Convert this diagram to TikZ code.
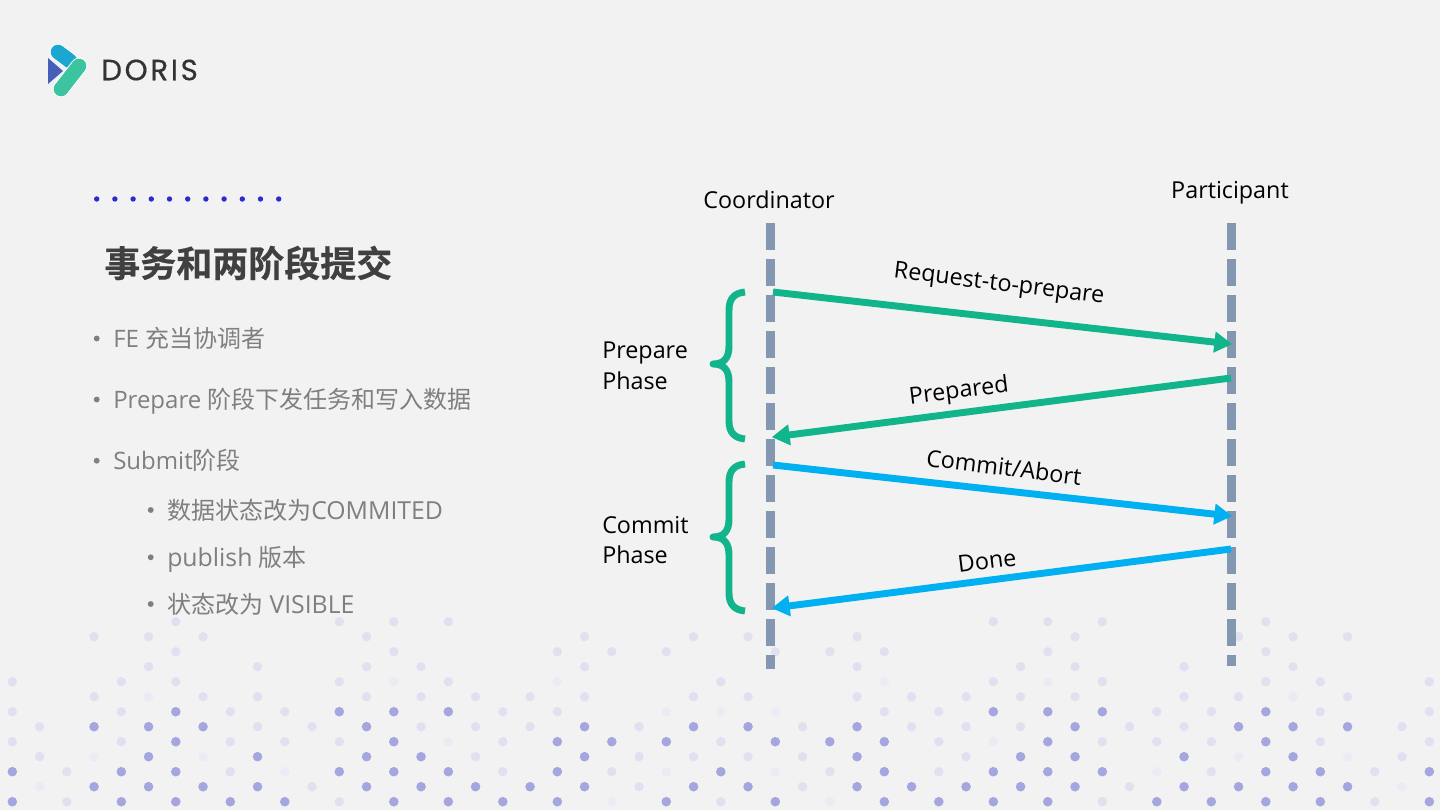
\documentclass[tikz,border=0pt]{standalone}
\usepackage{fontspec}
\usetikzlibrary{arrows.meta}
\setmainfont{Open Sans}
\newfontfamily\cjkf{Noto Sans CJK SC}
\newfontfamily\cjkb{Noto Sans CJK SC Bold}[FakeBold=0.5]
\newfontfamily\logof{Poppins}[LetterSpace=9,FakeBold=0.4]
\definecolor{bgc}{HTML}{F2F2F2}
\definecolor{darkdot}{HTML}{A5A5E0}
\definecolor{lightdot}{HTML}{E0E0F0}
\definecolor{faintdot}{HTML}{EBEBF3}
\definecolor{lifec}{HTML}{8497B0}
\definecolor{greenc}{HTML}{12B48B}
\definecolor{bluec}{HTML}{00B0F0}
\definecolor{graytext}{HTML}{7F7F7F}
\definecolor{titlec}{HTML}{404040}
\definecolor{topdot}{HTML}{2A2AD0}
\definecolor{logocyan}{HTML}{1AA7D0}
\definecolor{logoblue}{HTML}{4460B8}
\definecolor{logogreen}{HTML}{3CC4A0}
\newcommand{\dotrow}[4]{%
  \foreach \i in {#2} {\fill[lightdot] ({12.3+27.25*\i},{621.7+15*#1}) circle (4.7);}%
  \foreach \i in {#3} {\fill[darkdot] ({12.3+27.25*\i},{621.7+15*#1}) circle (4.8);}%
  \foreach \i in {#4} {\fill[faintdot] ({12.3+27.25*\i},{621.7+15*#1}) circle (4.7);}%
}
\newcommand{\lat}[1]{{\fontsize{18.6}{22}\selectfont #1}}
\tikzset{
  bodytext/.style={anchor=base west,inner sep=0,text=graytext,font=\fontsize{18}{22}\selectfont},
  bul/.style={fill=graytext,circle,inner sep=0,minimum size=4.4pt},
  lifeline/.style={draw=lifec,line width=6.75pt,dash pattern=on 20.25pt off 6.75pt},
  msggreen/.style={draw=greenc,line width=5.2pt,-{Triangle[length=13.5pt,width=15pt]},shorten >=-1pt},
  msgblue/.style={draw=bluec,line width=5.2pt,-{Triangle[length=13.5pt,width=15pt]},shorten >=-1pt},
  brace/.style={draw=greenc,line width=5.2pt,line cap=butt,line join=round},
  lbl/.style={inner sep=0,text=black,font=\fontsize{17.5}{20}\selectfont},
  phase/.style={anchor=west,inner sep=0,text=black,align=left,font=\fontsize{17.5}{23}\selectfont},
}
\begin{document}
\begin{tikzpicture}[x=0.75pt,y=-0.75pt]
\useasboundingbox (0,0) rectangle (1440,810);
\fill[bgc] (0,0) rectangle (1440,810);
% background dots
\dotrow{0}{6,12,14,16,36,38,40,46}{}{}
\dotrow{1}{3,5,7,13,21,25,27,31,39,45,47,49}{}{}
\dotrow{2}{6,14,20,22,24,28,30,32,38,46}{}{}
\dotrow{3}{5,9,13,15,21,31,37,39,43,47}{}{}
\dotrow{4}{0,4,6,12,16,26,36,40,46,48,52}{}{14,20,32,38}
\dotrow{5}{3,7,9,13,15,17,19,21,25,27,31,33,35,37,39,43,45,49}{}{5,47}
\dotrow{6}{0,4,8,10,18,20,32,34,42,44,48,52}{6,12,14,16,36,38,40,46}{24,26,28}
\dotrow{7}{1,9,11,15,17,19,23,29,33,35,37,41,43,51}{3,5,7,13,21,25,27,31,39,45,47,49}{}
\dotrow{8}{0,4,8,10,12,18,26,34,40,42,44,48,52}{6,14,20,22,24,28,30,32,38,46}{16,36}
\dotrow{9}{1,17,23,25,27,29,35,51}{5,9,13,15,21,31,37,39,43,47}{3,7,45,49}
\dotrow{10}{2,8,18,22,30,34,44,50}{0,4,6,12,14,16,20,26,32,36,38,40,46,48,52}{10,24,28,42}
\dotrow{11}{11,23,29,41}{3,5,7,9,13,15,17,19,21,25,27,31,33,35,37,39,43,45,47,49}{1,51}
\dotrow{12}{2,12,26,40,50}{0,4,6,8,10,14,16,18,20,24,28,32,34,36,38,42,44,46,48,52}{22,30}
% logo
\fill[logoblue] (48,58) -- (63,71) -- (48,84) -- cycle;
\draw[line width=12.5pt,line cap=round,draw=white!90!bgc] (58,52) -- (70,61);
\draw[line width=11pt,line cap=round,draw=logocyan] (58,52) -- (70,61);
\draw[line width=12.5pt,line cap=round,draw=white!90!bgc] (79,66) -- (61,89);
\draw[line width=11pt,line cap=round,draw=logogreen] (79,66) -- (61,89);
\node[anchor=west,inner sep=0,text=black!80,font=\logof\fontsize{22}{24}\selectfont] (logotext) at (101,70) {DORIS};
% top dots
\foreach \k in {0,...,10} \fill[topdot] ({96.7+18.2*\k},199) circle (2.7);
% title
\node[anchor=west,inner sep=0,text=titlec,font=\cjkb\fontsize{27}{30}\selectfont] (title) at (104,263) {事务和两阶段提交};
% bullets
\node[bul] (b1) at (96.7,338.5) {};
\node[bodytext] (t1) at (113,347) {FE {\cjkf 充当协调者}};
\node[bul] (b2) at (96.7,399.5) {};
\node[bodytext] (t2) at (113,408) {Prepare {\cjkf 阶段下发任务和写入数据}};
\node[bul] (b3) at (96.7,460.7) {};
\node[bodytext] (t3) at (113,469) {Submit{\cjkf 阶段}};
\node[bul] (b4) at (150.7,510) {};
\node[bodytext] (t4) at (167,519) {{\cjkf 数据状态改为}\lat{COMMITED}};
\node[bul] (b5) at (150.7,557.3) {};
\node[bodytext] (t5) at (167,566) {\lat{publish} {\cjkf 版本}};
\node[bul] (b6) at (150.7,604) {};
\node[bodytext] (t6) at (167,613) {{\cjkf 状态改为} \lat{VISIBLE}};
% lifelines
\coordinate (ctop) at (770.5,223);
\coordinate (cbot) at (770.5,669);
\coordinate (ptop) at (1231.2,223);
\coordinate (pbot) at (1231.2,666);
\draw[lifeline] (ctop) -- (cbot);
\draw[lifeline] (ptop) -- (pbot);
\node[lbl] (coord) at (769,199.5) {Coordinator};
\node[lbl] (part) at (1230,192.5) {Participant};
% messages
\coordinate (m1a) at (773,292); \coordinate (m1b) at (1231,344);
\coordinate (m2a) at (1231,378); \coordinate (m2b) at (773,437);
\coordinate (m3a) at (773,465); \coordinate (m3b) at (1231,516);
\coordinate (m4a) at (1231,549); \coordinate (m4b) at (773,608);
\draw[msggreen] (m1a) -- (m1b);
\draw[msggreen] (m2a) -- (m2b);
\draw[msgblue] (m3a) -- (m3b);
\draw[msgblue] (m4a) -- (m4b);
\node[lbl,rotate=-7] (l1) at (999,285) {Request-to-prepare};
\node[lbl,rotate=7] (l2) at (959,392) {Prepared};
\node[lbl,rotate=-7] (l3) at (1004,467) {Commit/Abort};
\node[lbl,rotate=7] (l4) at (987,561) {Done};
% braces
\draw[brace] (745,292) .. controls (735,293) and (729,298) .. (729,310) -- (729,346) .. controls (729,358) and (724,364) .. (713,364) .. controls (724,364) and (729,370) .. (729,382) -- (729,421) .. controls (729,433) and (735,438) .. (745,439);
\draw[brace] (745,464) .. controls (735,465) and (729,470) .. (729,482) -- (729,519) .. controls (729,531) and (724,537) .. (713,537) .. controls (724,537) and (729,543) .. (729,555) -- (729,593) .. controls (729,605) and (735,610) .. (745,611);
\node[phase] (ph1) at (602,366) {Prepare\\Phase};
\node[phase] (ph2) at (602,540) {Commit\\Phase};
\end{tikzpicture}
\end{document}
